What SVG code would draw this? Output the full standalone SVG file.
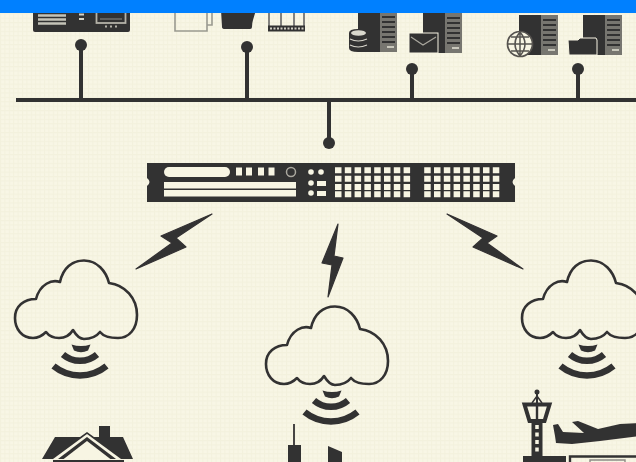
<svg xmlns="http://www.w3.org/2000/svg" xmlns:xlink="http://www.w3.org/1999/xlink" width="636" height="462" viewBox="0 0 636 462">
<style>
.d{fill:#333132}
.l{fill:#f7f5e3}
.g{fill:#77766f}
.wire{stroke:#333132;stroke-width:4;fill:none}
.cl{fill:none;stroke:#333132;stroke-width:2.600;stroke-linejoin:round}
.wf{fill:none;stroke:#333132;stroke-width:6.500}
.ol{fill:none;stroke:#9a9a90;stroke-width:1.600}
.b{fill:#333132;stroke:#333132;stroke-width:1.200;stroke-linejoin:round}
</style>
<defs>
<filter id="soft" x="0" y="0" width="636" height="480" filterUnits="userSpaceOnUse"><feGaussianBlur stdDeviation="0.45"/></filter>
<pattern id="grid" width="4.4" height="4.4" patternUnits="userSpaceOnUse">
<rect width="4.4" height="4.4" fill="#f8f6e5"/>
<path d="M0 .5H4.400M.5 0V4.400" stroke="#f3f1dd" stroke-width="1" fill="none"/>
</pattern>
<g id="cloud">
<path class="cl" d="M36 299C40 284 52 279 60 282C63 268 72 260.500 84 260.500C97 260.500 106 271 109 283C125 285 137 298 137 315C137 329 129 338 118 338C110 338 104 337 100 332C96 337 90 339 84 339C79 339 76 335 73 330C70 335 65 338 59 338C53 338 49 336 46 332C42 336 38 338 33 338C22 338 15 329 15 318C15 306 24 299 36 299Z"/>
<path class="wf" d="M53.500 366A42 42 0 0 0 106.500 366"/>
<path class="wf" d="M63 354.500A26 26 0 0 0 97 354.500"/>
<path class="d" d="M71.500 344.500Q81 347.500 90.500 344.500L88 350.500Q81 354 74 350.500Z"/>
</g>
<g id="server">
<rect class="d" x="0" y="0" width="22" height="40"/>
<rect class="g" x="22" y="0" width="17" height="40"/>
<path stroke="#333132" stroke-width="2.200" d="M24 5H37M24 10H37M24 15H37M24 20H37M24 25H37M24 30H37" fill="none"/>
<rect fill="#c9c8bc" x="29" y="34" width="7" height="2"/>
</g>
</defs>
<rect width="636" height="462" fill="url(#grid)"/>
<g filter="url(#soft)">
<g id="connectors">
<path class="wire" d="M16 100H640M81 45V100M247 47V100M412 69V100M578 69V100M329 100V143"/>
<circle class="d" cx="81" cy="45" r="6"/>
<circle class="d" cx="247" cy="47" r="6"/>
<circle class="d" cx="412" cy="69" r="6"/>
<circle class="d" cx="578" cy="69" r="6"/>
<circle class="d" cx="329" cy="143" r="6"/>
</g>
<g id="top-server">
<path class="d" d="M33 10H130V30Q130 32 128 32H35Q33 32 33 30Z"/>
<path d="M38 15.500H66M38 19.500H66M38 23.500H66" stroke="#c4c3b8" stroke-width="2.400" fill="none"/>
<path d="M79 14.500H84M79 19H84" stroke="#d4d3c7" stroke-width="2.200" fill="none"/>
<rect x="96.500" y="9" width="29" height="14" fill="#333132" stroke="#b3b2a7" stroke-width="1.800"/>
<path d="M100 19H122" stroke="#8d8c86" stroke-width="1"/>
<path d="M105 26.500H107M110 26.500H112M115 26.500H117" stroke="#b3b2a7" stroke-width="2"/>
</g>
<g id="top-media">
<path class="ol" d="M175 10V31H207V10M207 25H212V10"/>
<path class="d" d="M221 10H256L253 20Q252 23 252 27Q252 29 250 29H225Q222 29 222 27Z"/>
<path d="M269 10V26M281 10V26M294 10V26M304 10V26" stroke="#666" stroke-width="1.600" fill="none"/>
<rect class="d" x="268" y="25.500" width="37" height="6"/>
<path d="M270 28.500H304" stroke="#cfcec2" stroke-width="2" stroke-dasharray="2 1.500"/>
</g>
<g id="db-server">
<use xlink:href="#server" href="#server" x="358" y="12"/>
<path class="d" d="M349 33Q349 29 358 29Q368 29 368 33V48Q368 52 358 52Q349 52 349 48Z"/>
<ellipse cx="358.500" cy="33" rx="7.500" ry="2.800" fill="#d9d8cd"/>
<path d="M350 39Q358 43 367 39M350 45Q358 49 367 45" stroke="#d9d8cd" stroke-width="1.200" fill="none"/>
</g>
<g id="mail-server">
<use xlink:href="#server" href="#server" x="423" y="13"/>
<rect class="d" x="409" y="33" width="29" height="20" stroke="#f7f5e3" stroke-width="1"/>
<path d="M411 37L423 45L436 37" stroke="#a9a89e" stroke-width="1.200" fill="none"/>
</g>
<g id="web-server">
<use xlink:href="#server" href="#server" x="519" y="15"/>
<circle cx="520" cy="44" r="12.500" fill="#f7f5e3" stroke="#55534f" stroke-width="1.700"/>
<path d="M508 44H532M520 32V56M511 37H529M511 51H529M520 32Q510 44 520 56M520 32Q530 44 520 56" stroke="#55534f" stroke-width="1.500" fill="none"/>
</g>
<g id="file-server">
<use xlink:href="#server" href="#server" x="583" y="15"/>
<path class="d" d="M568 40H578L580 38H596L597 40V55H569Z" stroke="#f7f5e3" stroke-width="1"/>
</g>
<g id="rack">
<path class="d" d="M147 163H515V178Q510 182 515 186V202H147V186Q152 182 147 178Z"/>
<rect class="l" x="164" y="167" width="66" height="10" rx="5"/>
<path class="l" d="M236 167.500h6v8h-6zM246 167.500h6v8h-6zM258 167.500h6v8h-6zM268.500 167.500h6v8h-6z"/>
<circle cx="291" cy="172" r="4.500" fill="none" stroke="#a9a89e" stroke-width="1.500"/>
<rect class="l" x="164" y="182" width="132" height="6.500"/>
<rect class="l" x="164" y="190" width="132" height="6.500"/>
<path class="l" d="M317 181h9v5h-9zM317 191h9v5h-9z"/>
<g class="l"><circle cx="311" cy="172" r="2.800"/><circle cx="321" cy="172" r="2.800"/><circle cx="311" cy="183" r="2.800"/><circle cx="311" cy="193" r="2.800"/></g>
<path d="M335 170.200H411M335 178.700H411M335 187H411M335 194.200H411M424.200 170.200H500M424.200 178.700H500M424.200 187H500M424.200 194.200H500" stroke="#f7f5e3" stroke-width="6" stroke-dasharray="6.500 3.300" fill="none"/>
</g>
<g id="bolts">
<path class="b" d="M212 214L161 236L172 243L136 269L186 247L176 238Z"/>
<path class="b" d="M338 224L322 263L332 265L328 297L343 258L334 256Z"/>
<path class="b" d="M447 214L497 236L487 243L523 269L473 247L483 238Z"/>
</g>
<g id="cloud-left"><use xlink:href="#cloud" href="#cloud"/></g>
<g id="cloud-center"><use xlink:href="#cloud" href="#cloud" x="251" y="46"/></g>
<g id="cloud-right"><use xlink:href="#cloud" href="#cloud" x="507"/></g>
<g id="house">
<path class="d" d="M42 459L55 437H80L87 432L94 437H99V426H110V437H123L133 459Z"/>
<path d="M53 459L87 434L121 459" fill="#f7f5e3" stroke="none"/>
<path d="M58 459L87 437L116 459" class="d"/>
<path d="M63 459.500L87 441L111 459.500Z" fill="#f7f5e3"/>
<rect class="d" x="53" y="460" width="71" height="6"/>
</g>
<g id="city">
<path d="M294 424V446" stroke="#333132" stroke-width="1.800"/>
<rect class="d" x="288" y="445" width="13" height="22"/>
<path class="d" d="M328 446L342 452V467H328Z"/>
</g>
<g id="airport">
<path d="M537 390V403" stroke="#333132" stroke-width="2"/>
<circle class="d" cx="537" cy="392" r="2.500"/>
<path d="M532 403L537 396L542 403" fill="none" stroke="#333132" stroke-width="1.500"/>
<path d="M524.500 404.500H549.500L544.500 421H529.500Z" fill="none" stroke="#333132" stroke-width="4"/>
<path d="M537 404V421" stroke="#333132" stroke-width="2.400"/>
<rect class="d" x="531.500" y="421" width="11" height="36"/>
<path d="M537 425V455" stroke="#f7f5e3" stroke-width="3.500" stroke-dasharray="4 3.500"/>
<rect class="d" x="523" y="456" width="43" height="10"/>
<path class="d" d="M553 425L558 424L563 432L584 433L572 422L578 421L598 429L620 424L640 423V436L600 441L572 444L556 443L555 436Z"/>
<path d="M570 467V456.500H640" fill="none" stroke="#333132" stroke-width="2.400"/>
<path d="M590 467V460H625V467" fill="none" stroke="#8d8c86" stroke-width="1.400"/>
</g>
</g>
<rect width="636" height="13" fill="#0080ff"/>
</svg>
